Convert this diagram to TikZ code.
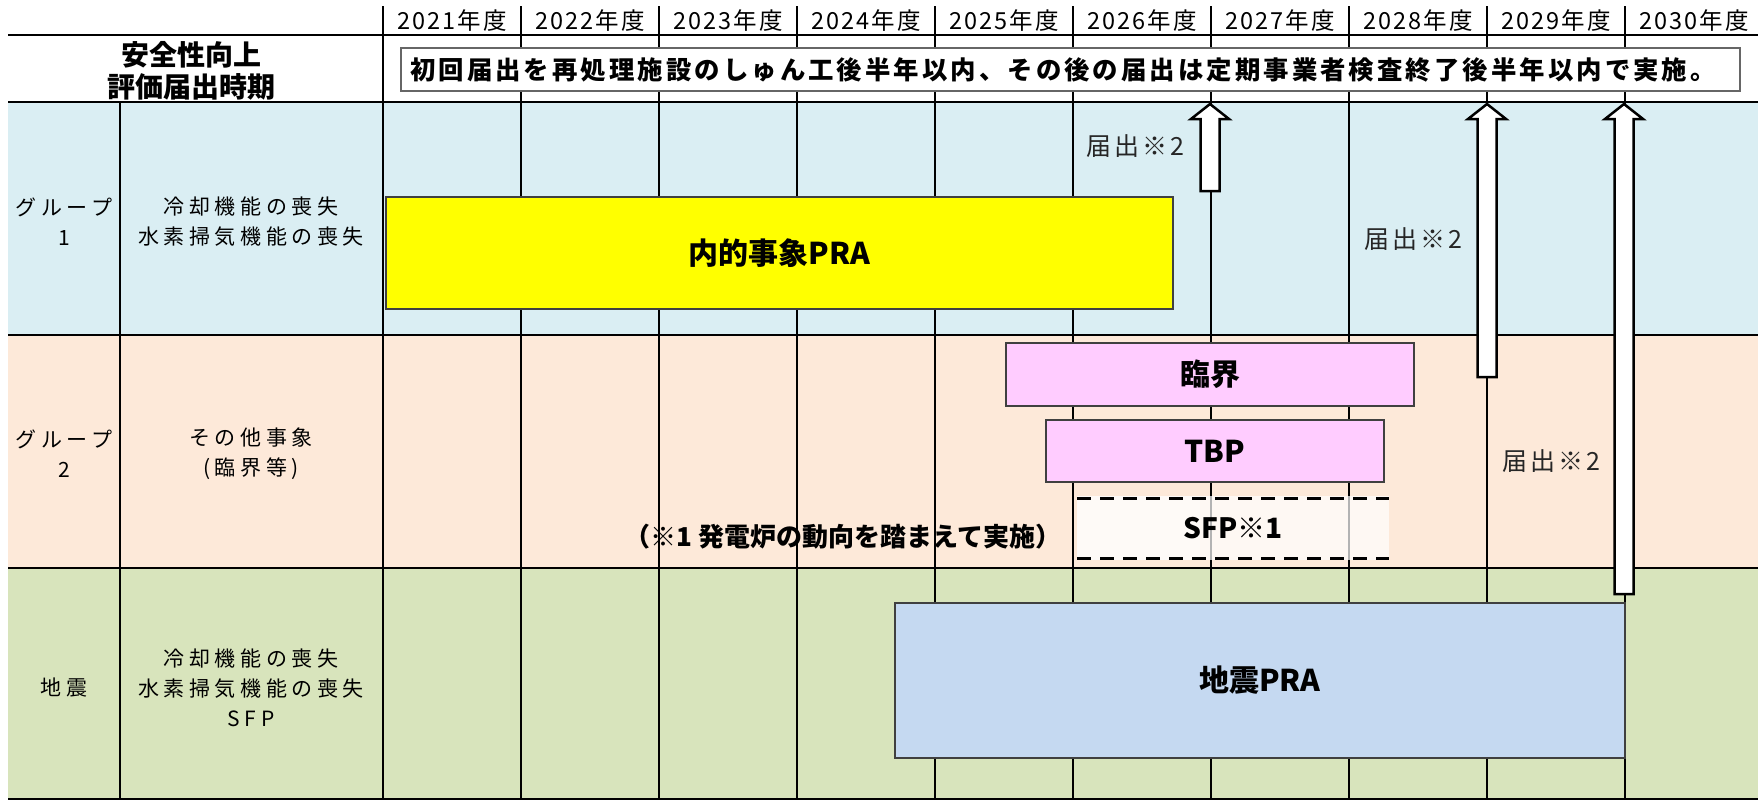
\documentclass[tikz,border=0pt]{standalone}
\usepackage{fontspec}
\setmainfont{Noto Sans CJK JP}
\newfontfamily\jpwide[LetterSpace=22]{Noto Sans CJK JP}
\newfontfamily\jpyear[LetterSpace=9]{Noto Sans CJK JP}
\newfontfamily\jphead[LetterSpace=12]{Noto Sans CJK JP}
\newfontfamily\jpnote[LetterSpace=12]{Noto Sans CJK JP}
\definecolor{rowblue}{HTML}{DAEEF3}
\definecolor{rowpeach}{HTML}{FDE9D9}
\definecolor{rowgreen}{HTML}{D8E4BC}
\definecolor{baryellow}{HTML}{FFFF00}
\definecolor{barpink}{HTML}{FFCCFF}
\definecolor{barblue}{HTML}{C5D9F1}
\definecolor{boxedge}{HTML}{404040}
\definecolor{notegray}{HTML}{262626}
\begin{document}
\begin{tikzpicture}[x=1pt,y=-1pt,
  gridline/.style={line width=2pt,black},
  bar/.style={draw=boxedge,line width=1.5pt,inner sep=0pt,
    font=\fontsize{30}{36}\selectfont\bfseries},
  yearlabel/.style={inner sep=0pt,font=\jpyear\fontsize{23.5}{26}\selectfont},
  celltext/.style={inner sep=0pt,align=center,font=\jpwide\fontsize{21}{30}\selectfont},
  headtext/.style={inner sep=0pt,font=\fontsize{28}{30}\selectfont\bfseries},
  notetext/.style={inner sep=0pt,text=notegray,font=\jpnote\fontsize{25}{28}\selectfont},
  blockarrow/.style={draw=black,fill=white,line width=2.5pt,line join=miter},
  sfpdash/.style={line width=3pt,black,dash pattern=on 14pt off 9pt}
]
\useasboundingbox (0,0) rectangle (1758,801);
\fill[white] (0,0) rectangle (1758,801);
% row fills
\fill[rowblue] (8,102) rectangle (1758,335);
\fill[rowpeach] (8,335) rectangle (1758,568);
\fill[rowgreen] (8,568) rectangle (1758,800);
% grid
\foreach \yy in {35,102,335,568,799}
  \draw[gridline] (8,\yy) -- (1758,\yy);
\draw[gridline] (120,102) -- (120,800);
\foreach \i in {0,...,9}
  \draw[gridline] (383+138*\i,6) -- (383+138*\i,800);
% year labels
\foreach \i in {0,...,9} {
  \pgfmathtruncatemacro\yr{2021+\i}
  \node[yearlabel] (y\yr) at (452+138*\i,21) {\yr 年度};
}
% header
\node[headtext] (hdr1) at (191,55) {安全性向上};
\node[headtext] (hdr2) at (191,87) {評価届出時期};
\node[draw=black!60,fill=white,line width=1.5pt,inner sep=0pt,
  minimum width=1339pt,minimum height=43pt] (hbox) at (1070.5,69.5) {};
\node[inner sep=0pt,font=\jphead\fontsize{25.4}{30}\selectfont\bfseries] (htext) at (1063,69.5)
  {初回届出を再処理施設のしゅん工後半年以内、その後の届出は定期事業者検査終了後半年以内で実施。};
% left columns
\node[celltext] (g1) at (64,222) {グループ\\1};
\node[celltext] (g2) at (64,454) {グループ\\2};
\node[celltext] (g3) at (64,688) {地震};
\node[celltext] (e1) at (251,222) {冷却機能の喪失\\水素掃気機能の喪失};
\node[celltext] (e2) at (251,454) {その他事象\\(臨界等)};
\node[celltext] (e3) at (251,688) {冷却機能の喪失\\水素掃気機能の喪失\\SFP};
% bars
\node[bar,fill=baryellow,minimum width=787pt,minimum height=112pt] (pra) at (779.5,253) {内的事象PRA};
\node[bar,fill=barpink,minimum width=408pt,minimum height=63pt] (rinkai) at (1210,374.5) {臨界};
\node[bar,fill=barpink,minimum width=338pt,minimum height=62pt] (tbp) at (1215,451) {TBP};
\fill[white,fill opacity=0.7] (1077,496) rectangle (1389,560);
\fill[white,fill opacity=0.4] (1077,496) rectangle (1200,560);
\node[inner sep=0pt,font=\fontsize{28}{32}\selectfont\bfseries] (sfp) at (1233,528) {SFP※1};
\coordinate (sfpA) at (1077,498);
\coordinate (sfpB) at (1389,498);
\coordinate (sfpC) at (1077,558);
\coordinate (sfpD) at (1389,558);
\draw[sfpdash] (sfpA) -- (sfpB);
\draw[sfpdash] (sfpC) -- (sfpD);
\node[inner sep=0pt,font=\fontsize{26}{30}\selectfont\bfseries] (sfpnote) at (843,537) {（※1 発電炉の動向を踏まえて実施）};
\node[bar,fill=barblue,minimum width=730pt,minimum height=155pt] (eq) at (1260,680.5) {地震PRA};
% arrows
\foreach \ax/\ab in {1210/191,1487/377,1624/594}
  \draw[blockarrow] (\ax-9.5,\ab) -- (\ax-9.5,119) -- (\ax-19,119) -- (\ax,104)
    -- (\ax+19,119) -- (\ax+9.5,119) -- (\ax+9.5,\ab) -- cycle;
% arrow notes
\node[notetext] (n1) at (1135,146) {届出※2};
\node[notetext] (n2) at (1413,239) {届出※2};
\node[notetext] (n3) at (1551,461) {届出※2};
\end{tikzpicture}
\end{document}
